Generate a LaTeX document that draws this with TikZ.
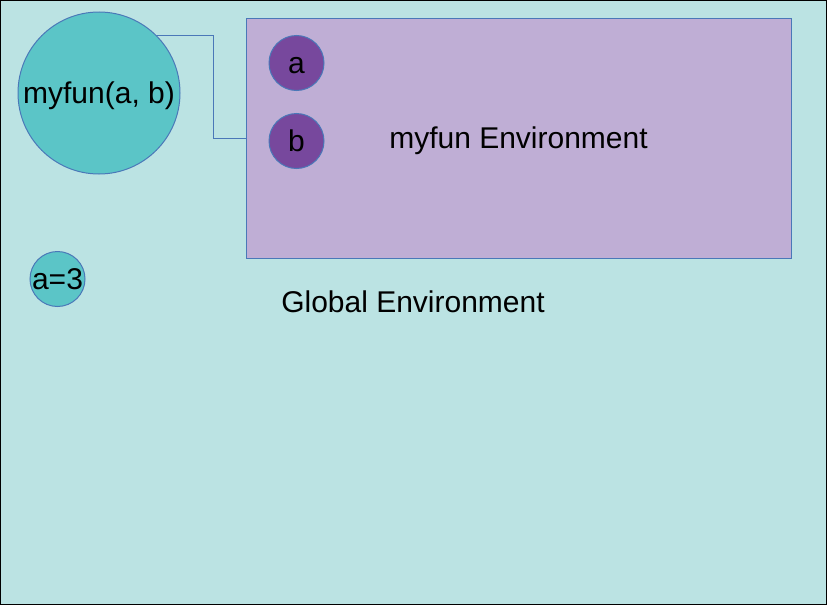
\documentclass[tikz,border=0pt]{standalone}
\usepackage{fontspec}
\setmainfont{Liberation Sans}
\definecolor{bgcol}{HTML}{BBE3E3}
\definecolor{tealcol}{HTML}{5BC5C7}
\definecolor{lavcol}{HTML}{BFAED5}
\definecolor{plumcol}{HTML}{77489D}
\definecolor{linecol}{HTML}{4A78B8}
\begin{document}
\begin{tikzpicture}[x=1pt,y=-1pt,line width=1pt,
  font=\fontsize{30}{36}\selectfont,
  every node/.append style={text height=27.1pt,text depth=6.4pt},
  circ/.style={circle,draw=linecol,fill=tealcol,inner sep=0pt},
  var/.style={circle,draw=linecol,fill=plumcol,minimum size=55pt,inner sep=0pt}]
\draw[fill=bgcol](.5,.5)rectangle(826.5,604.5);
\node[circ,minimum size=162pt](fun) at (99,93){myfun(a, b)};
\node[circ,minimum size=55pt,label={center:a=3}](aval) at (57.5,279){};
\node[draw=linecol,fill=lavcol,minimum width=545pt,minimum height=240pt,inner sep=0pt](env) at (518.5,138){myfun Environment};
\foreach \v/\y in {a/63,b/141}
{
    \node[var](\v) at (296.5,\y){\v};
}
\node(glob) at (413,302){Global Environment};
\coordinate(bend) at (213,138);
\draw[linecol](fun.north east)-|(bend)--(env.west);
\end{tikzpicture}
\end{document}
